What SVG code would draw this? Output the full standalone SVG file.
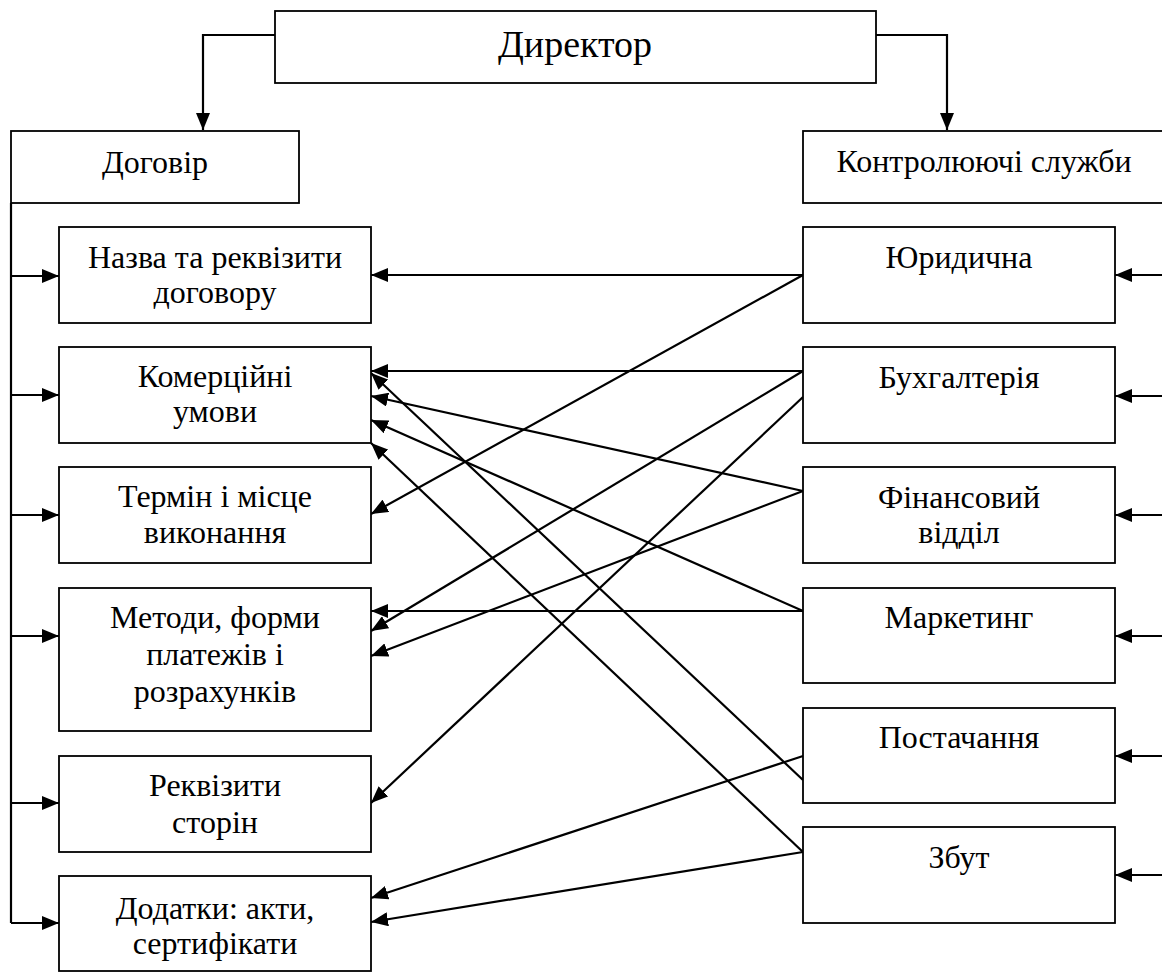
<svg xmlns="http://www.w3.org/2000/svg" width="1162" height="972" viewBox="0 0 1162 972">
<style>
.box{fill:#fff;stroke:#000;stroke-width:1.8}
.t{font-family:'Liberation Serif','Times New Roman',serif;font-size:32px;fill:#000;text-anchor:middle}
.big{font-size:38px}
.ln{fill:none;stroke:#000;stroke-width:2.2}
.ar{marker-end:url(#ah)}
</style>
<defs>
<marker id="ah" markerUnits="userSpaceOnUse" markerWidth="17" markerHeight="14" refX="17" refY="7" orient="auto">
<path d="M0,0 L17,7 L0,14 Z" fill="#000"/>
</marker>
</defs>
<rect width="1162" height="972" fill="#fff"/>
<g id="connectors">
<path class="ln" d="M275,35 H203 V130" marker-end="url(#ah)"/>
<path class="ln" d="M876,35 H947 V130" marker-end="url(#ah)"/>
<path class="ln" d="M11,203 V923"/>
<line class="ln ar" x1="11" y1="276" x2="59" y2="276"/>
<line class="ln ar" x1="11" y1="395" x2="59" y2="395"/>
<line class="ln ar" x1="11" y1="515" x2="59" y2="515"/>
<line class="ln ar" x1="11" y1="636" x2="59" y2="636"/>
<line class="ln ar" x1="11" y1="803" x2="59" y2="803"/>
<line class="ln ar" x1="11" y1="923" x2="59" y2="923"/>
<line class="ln ar" x1="1162" y1="275" x2="1115" y2="275"/>
<line class="ln ar" x1="1162" y1="396" x2="1115" y2="396"/>
<line class="ln ar" x1="1162" y1="515" x2="1115" y2="515"/>
<line class="ln ar" x1="1162" y1="636" x2="1115" y2="636"/>
<line class="ln ar" x1="1162" y1="756" x2="1115" y2="756"/>
<line class="ln ar" x1="1162" y1="875" x2="1115" y2="875"/>
<line class="ln ar" x1="803" y1="275" x2="371" y2="275"/>
<line class="ln ar" x1="803" y1="275" x2="371" y2="514"/>
<line class="ln ar" x1="803" y1="371" x2="371" y2="371"/>
<line class="ln ar" x1="803" y1="371" x2="371" y2="631"/>
<line class="ln ar" x1="803" y1="397" x2="371" y2="803"/>
<line class="ln ar" x1="803" y1="491" x2="371" y2="396"/>
<line class="ln ar" x1="803" y1="491" x2="371" y2="656"/>
<line class="ln ar" x1="803" y1="611" x2="371" y2="611"/>
<line class="ln ar" x1="803" y1="611" x2="371" y2="420"/>
<line class="ln ar" x1="803" y1="780" x2="371" y2="373"/>
<line class="ln ar" x1="803" y1="756" x2="371" y2="898"/>
<line class="ln ar" x1="803" y1="852" x2="371" y2="443"/>
<line class="ln ar" x1="803" y1="852" x2="371" y2="922"/>
</g>
<g id="director"><rect class="box" x="275" y="11" width="601" height="72"/><text class="t big" x="575" y="57">Директор</text></g>
<g id="dogovir"><rect class="box" x="11" y="131" width="288" height="72"/><text class="t" x="155" y="173">Договір</text></g>
<g id="kontrol"><rect class="box" x="803" y="131" width="366" height="72"/><text class="t" x="984" y="172">Контролюючі служби</text></g>
<g id="nazva"><rect class="box" x="59" y="227" width="312" height="96"/><text class="t" x="215" y="268">Назва та реквізити</text><text class="t" x="215" y="303">договору</text></g>
<g id="komerc"><rect class="box" x="59" y="347" width="312" height="96"/><text class="t" x="215" y="387">Комерційні</text><text class="t" x="215" y="422">умови</text></g>
<g id="termin"><rect class="box" x="59" y="467" width="312" height="96"/><text class="t" x="215" y="507">Термін і місце</text><text class="t" x="215" y="543">виконання</text></g>
<g id="metody"><rect class="box" x="59" y="588" width="312" height="143"/><text class="t" x="215" y="628">Методи, форми</text><text class="t" x="215" y="665">платежів і</text><text class="t" x="215" y="702">розрахунків</text></g>
<g id="rekvizyty"><rect class="box" x="59" y="756" width="312" height="96"/><text class="t" x="215" y="796">Реквізити</text><text class="t" x="215" y="833">сторін</text></g>
<g id="dodatky"><rect class="box" x="59" y="876" width="312" height="95"/><text class="t" x="215" y="919">Додатки: акти,</text><text class="t" x="215" y="954">сертифікати</text></g>
<g id="yur"><rect class="box" x="803" y="227" width="312" height="96"/><text class="t" x="959" y="268">Юридична</text></g>
<g id="buh"><rect class="box" x="803" y="347" width="312" height="96"/><text class="t" x="959" y="388">Бухгалтерія</text></g>
<g id="fin"><rect class="box" x="803" y="467" width="312" height="96"/><text class="t" x="959" y="508">Фінансовий</text><text class="t" x="959" y="543">відділ</text></g>
<g id="market"><rect class="box" x="803" y="588" width="312" height="95"/><text class="t" x="959" y="628">Маркетинг</text></g>
<g id="postach"><rect class="box" x="803" y="708" width="312" height="95"/><text class="t" x="959" y="748">Постачання</text></g>
<g id="zbut"><rect class="box" x="803" y="827" width="312" height="96"/><text class="t" x="959" y="868">Збут</text></g>
</svg>
